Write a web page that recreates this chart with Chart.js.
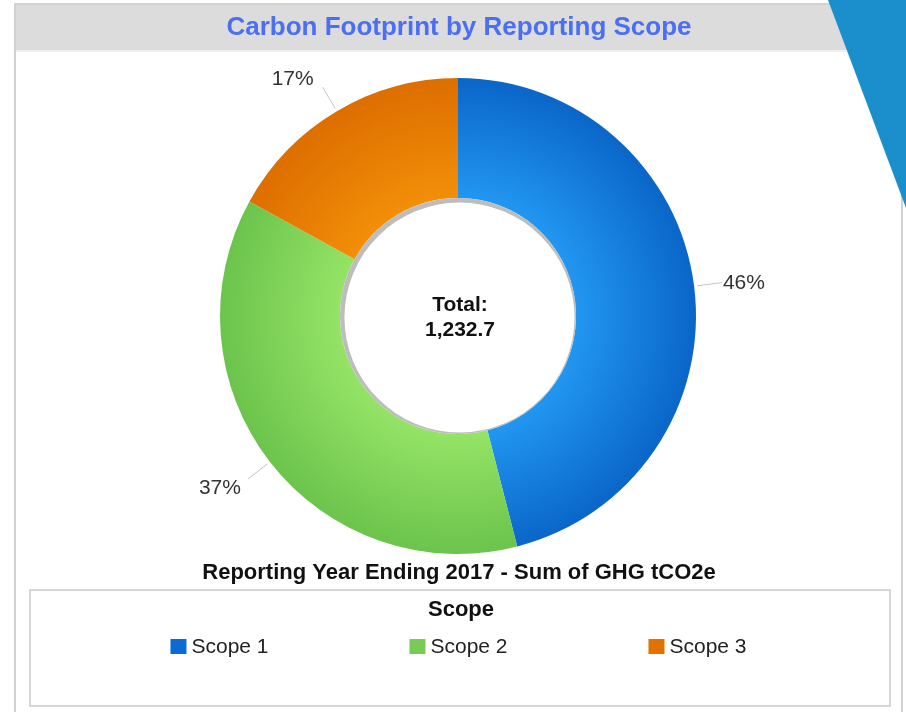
<!DOCTYPE html>
<html>
<head>
<meta charset="utf-8">
<title>Carbon Footprint by Reporting Scope</title>
<script src="https://cdn.jsdelivr.net/npm/chart.js@4.4.1/dist/chart.umd.min.js"></script>
<style>
  html, body { margin: 0; padding: 0; background: #fff; }
  #wrap { width: 906px; height: 712px; }
</style>
</head>
<body>
<div id="wrap"><canvas id="myChart" width="906" height="712"></canvas></div>
<script>
const scopeLabels = ['Scope 1', 'Scope 2', 'Scope 3'];
const scopeValues = [567.0, 456.1, 209.6]; // tCO2e, 46/37/17 split of 1,232.7
const chartTitle = 'Carbon Footprint by Reporting Scope';
const chartSubtitle = 'Reporting Year Ending 2017 - Sum of GHG tCO2e';
const legendTitle = 'Scope';

// inner / outer shade of each slice, and the flat legend swatch
const sliceShades = [
  ['#2196f0', '#0a66c8'],
  ['#94e366', '#6cc44c'],
  ['#f28e08', '#dd6e00']
];
const swatchColors = ['#0b6bd3', '#78cc55', '#e37100'];

const FONT = '"Liberation Sans", Arial, sans-serif';

function sliceFill(context) {
  const chart = context.chart;
  const area = chart.chartArea;
  const i = context.dataIndex;
  if (!area) return sliceShades[i][1];
  const cx = (area.left + area.right) / 2;
  const cy = (area.top + area.bottom) / 2;
  const R = Math.min(area.width, area.height) / 2;
  const g = chart.ctx.createRadialGradient(cx, cy, R * 0.5, cx, cy, R);
  g.addColorStop(0, sliceShades[i][0]);
  g.addColorStop(1, sliceShades[i][1]);
  return g;
}

const decor = {
  id: 'decor',
  beforeDraw(chart) {
    const {ctx, height} = chart;
    ctx.save();
    // panel outline
    ctx.strokeStyle = '#d2d2d2';
    ctx.lineWidth = 2;
    ctx.strokeRect(15, 4, 887, height + 20);
    // title bar
    ctx.fillStyle = '#dcdcdc';
    ctx.fillRect(16, 5, 886, 45);
    ctx.fillStyle = '#efefef';
    ctx.fillRect(16, 50, 886, 2);
    ctx.font = 'bold 26px ' + FONT;
    ctx.fillStyle = '#4a6ff2';
    ctx.textAlign = 'center';
    ctx.textBaseline = 'middle';
    ctx.fillText(chartTitle, 459, 28);
    ctx.restore();
  },
  afterDatasetsDraw(chart) {
    const {ctx} = chart;
    const meta = chart.getDatasetMeta(0);
    const first = meta.data[0];
    const cx = first.x, cy = first.y;
    const R = first.outerRadius, r = first.innerRadius;
    const total = scopeValues.reduce((a, b) => a + b, 0);

    ctx.save();
    // soft shadow on the inner edge of the ring
    ctx.fillStyle = '#bdbdbd';
    ctx.beginPath();
    ctx.arc(cx, cy, r, 0, Math.PI * 2);
    ctx.fill();
    ctx.fillStyle = '#ffffff';
    ctx.beginPath();
    ctx.arc(cx + 1.5, cy + 1.5, r - 3, 0, Math.PI * 2);
    ctx.fill();

    // total in the hole
    ctx.fillStyle = '#111';
    ctx.font = 'bold 21px ' + FONT;
    ctx.textAlign = 'center';
    ctx.textBaseline = 'middle';
    ctx.fillText('Total:', cx + 2, cy - 11);
    ctx.fillText(total.toLocaleString('en-US', {minimumFractionDigits: 1, maximumFractionDigits: 1}), cx + 2, cy + 14);

    // percentage labels with leader lines
    ctx.font = '21px ' + FONT;
    meta.data.forEach((arc, i) => {
      const mid = (arc.startAngle + arc.endAngle) / 2;
      const dx = Math.cos(mid), dy = Math.sin(mid);
      const x1 = cx + dx * (R + 3), y1 = cy + dy * (R + 3);
      const x2 = cx + dx * (R + 28), y2 = cy + dy * (R + 28);
      ctx.strokeStyle = '#c4c4c4';
      ctx.lineWidth = 1;
      ctx.beginPath();
      ctx.moveTo(x1, y1);
      ctx.lineTo(x2, y2);
      ctx.stroke();
      const pct = Math.round(scopeValues[i] / total * 100) + '%';
      const gap = 2 + 8 * Math.abs(dy);
      ctx.fillStyle = '#333';
      ctx.textAlign = dx >= 0 ? 'left' : 'right';
      ctx.fillText(pct, x2 + (dx >= 0 ? gap - 2 : -gap), y2 + 12 * dy + 2);
    });
    ctx.restore();
  },
  afterDraw(chart) {
    const {ctx} = chart;
    ctx.save();
    ctx.textBaseline = 'middle';
    ctx.textAlign = 'center';
    ctx.fillStyle = '#111';
    ctx.font = 'bold 22px ' + FONT;
    ctx.fillText(chartSubtitle, 459, 573);

    // legend box
    ctx.strokeStyle = '#d6d6d6';
    ctx.lineWidth = 2;
    ctx.strokeRect(30, 590, 860, 116);
    ctx.font = 'bold 22px ' + FONT;
    ctx.fillText(legendTitle, 461, 610);

    ctx.font = '21px ' + FONT;
    ctx.textAlign = 'left';
    const step = 239;
    const lastW = 21 + ctx.measureText(scopeLabels[scopeLabels.length - 1]).width;
    let x = 458.5 - (step * (scopeLabels.length - 1) + lastW) / 2;
    scopeLabels.forEach((lab, i) => {
      ctx.fillStyle = swatchColors[i];
      ctx.fillRect(x, 639, 16, 15);
      ctx.fillStyle = '#222';
      ctx.fillText(lab, x + 21, 647);
      x += step;
    });

    // slide decoration in the corner
    ctx.fillStyle = '#1a8fcb';
    ctx.beginPath();
    ctx.moveTo(828, 0);
    ctx.lineTo(906, 0);
    ctx.lineTo(906, 208);
    ctx.closePath();
    ctx.fill();
    ctx.restore();
  }
};

const config = {
  type: 'doughnut',
  data: {
    labels: scopeLabels,
    datasets: [{
      data: scopeValues,
      backgroundColor: sliceFill,
      borderWidth: 0,
      hoverOffset: 0
    }]
  },
  options: {
    responsive: false,
    animation: false,
    devicePixelRatio: 1,
    events: [],
    cutout: '49.6%',
    layout: {
      padding: {left: 220, right: 210, top: 78, bottom: 158}
    },
    plugins: {
      legend: {display: false},
      tooltip: {enabled: false}
    }
  },
  plugins: [decor]
};

const myChart = new Chart(document.getElementById('myChart'), config);
</script>
</body>
</html>
